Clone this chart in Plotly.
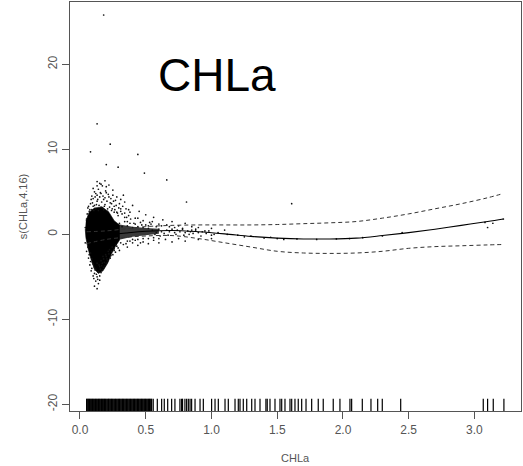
import plotly.graph_objects as go

# ---------------- data ----------------
# fitted smooth s(CHLa,4.16) and its +/- 2 SE band
fit_x = [0.05, 0.2, 0.35, 0.5, 0.7, 0.9, 1.1, 1.3, 1.5, 1.7, 1.9, 2.1, 2.3, 2.5, 2.7, 2.9, 3.1, 3.22]
fit_y = [-0.4, -0.1, 0.15, 0.35, 0.45, 0.3, 0.05, -0.25, -0.45, -0.55, -0.55, -0.45, -0.15, 0.2, 0.6, 1.05, 1.5, 1.8]
upper_y = [0.3, 0.4, 0.65, 0.9, 1.05, 1.1, 1.1, 1.1, 1.15, 1.25, 1.35, 1.5, 1.9, 2.4, 3.0, 3.6, 4.3, 4.8]
lower_y = [-1.1, -0.6, -0.35, -0.2, -0.15, -0.5, -1.0, -1.5, -2.0, -2.2, -2.25, -2.2, -2.0, -1.65, -1.45, -1.35, -1.25, -1.2]

# outline of the saturated (solid black) core of the partial-residual cloud
core_x = [0.045, 0.07, 0.11, 0.17, 0.22, 0.26, 0.3, 0.3, 0.27, 0.24, 0.21, 0.175, 0.14, 0.11, 0.085, 0.06, 0.045, 0.04]
core_y = [1.6, 2.6, 3.1, 3.2, 2.6, 1.6, 1.1, -0.7, -1.4, -2.3, -3.4, -4.3, -4.6, -4.1, -3.0, -1.6, -0.4, 0.6]

# outline of the dense (dark grey) band of residuals trailing along the smooth
trail_x = [0.28, 0.4, 0.5, 0.6, 0.6, 0.5, 0.4, 0.28]
trail_y = [1.2, 0.9, 0.75, 0.65, 0.05, -0.1, -0.3, -0.7]

# individual partial residuals around the core
res_x = [0.06, 0.08, 0.09, 0.1, 0.11, 0.12, 0.13, 0.14, 0.15, 0.16, 0.17, 0.18, 0.19, 0.2, 0.21, 0.22, 0.23,
         0.24, 0.25, 0.26, 0.27, 0.28, 0.3, 0.32, 0.33, 0.35, 0.37, 0.4, 0.42, 0.45, 0.48, 0.5, 0.53, 0.56,
         0.6, 0.63, 0.66, 0.7, 0.75, 0.8, 0.85, 0.9, 1.0, 1.1, 0.12, 0.14, 0.1, 0.07, 0.15, 0.2, 0.11, 0.09,
         0.17, 0.21, 0.13, 0.16, 0.18, 0.19, 0.24, 0.26, 0.29, 0.31, 0.34, 0.36, 0.38, 0.41, 0.44, 0.47,
         0.52, 0.55, 0.58, 0.62, 0.68, 0.72, 0.78, 0.88,
         0.06, 0.07, 0.08, 0.09, 0.1, 0.11, 0.12, 0.13, 0.14, 0.15, 0.16, 0.17, 0.18, 0.19, 0.2, 0.21, 0.22,
         0.24, 0.26, 0.28, 0.3, 0.33, 0.36, 0.4, 0.44, 0.48, 0.52, 0.56, 0.6, 0.65, 0.7, 0.75, 0.8, 0.9, 1.0,
         0.12, 0.14, 0.1, 0.13, 0.11, 0.09, 0.08, 0.15, 0.17, 0.16, 0.18, 0.2, 0.23, 0.25, 0.27, 0.05, 0.04,
         0.05, 0.04,
         0.55, 0.58, 0.6, 0.62, 0.64, 0.66, 0.68, 0.7, 0.72, 0.74, 0.76, 0.78, 0.8, 0.82, 0.84, 0.86, 0.88,
         0.9, 0.93, 0.96, 0.98, 1.02, 0.57, 0.61, 0.67, 0.73, 0.79, 0.83, 0.92, 1.0,
         1.05, 1.12, 1.2, 1.25, 1.3, 1.4, 1.45, 1.5, 1.55, 1.65, 1.8, 1.95, 2.05, 2.15, 2.3, 2.45,
         3.08, 3.1, 3.14, 3.22, 0.95, 0.85,
         0.18, 0.13, 0.23, 0.08, 0.44, 0.2, 0.29, 0.49, 0.13, 0.66, 0.81, 1.61,
         0.055, 0.065, 0.075, 0.085, 0.095, 0.105, 0.115, 0.125, 0.135, 0.145, 0.155, 0.165, 0.175, 0.185,
         0.195, 0.205, 0.215, 0.225, 0.235, 0.245, 0.255, 0.265, 0.275, 0.285, 0.295, 0.31, 0.325, 0.34,
         0.355, 0.37, 0.385, 0.1, 0.13, 0.16, 0.19, 0.22, 0.25, 0.28, 0.31, 0.34,
         0.065, 0.075, 0.085, 0.095, 0.105, 0.115, 0.125, 0.135, 0.145, 0.155, 0.165, 0.175, 0.185, 0.195,
         0.205, 0.215, 0.225, 0.235, 0.245, 0.26, 0.275, 0.29, 0.31, 0.35, 0.38, 0.42, 0.46, 0.11, 0.13, 0.15,
         0.3, 0.32, 0.34, 0.36, 0.38, 0.4, 0.42, 0.44, 0.46, 0.48, 0.5, 0.52, 0.54, 0.36, 0.4, 0.44, 0.48,
         0.52, 0.56, 0.6]
res_y = [3.1, 3.6, 2.9, 4.2, 3.4, 4.8, 3.9, 5.3, 4.4, 3.2, 5.7, 4.1, 3.5, 4.9, 3.0, 4.4, 3.7,
         2.8, 5.2, 3.3, 4.0, 2.6, 3.6, 2.4, 4.6, 3.0, 2.2, 3.4, 1.9, 2.7, 1.6, 2.3, 1.4, 2.0,
         1.2, 1.7, 1.1, 1.5, 1.0, 1.3, 0.9, 0.8, 0.7, 0.5, 3.0, 2.8, 3.3, 2.7, 6.0, 5.6, 5.0, 4.5,
         3.1, 2.7, 4.6, 4.8, 2.9, 4.3, 3.6, 2.6, 2.2, 3.0, 2.0, 1.5, 2.6, 1.3, 1.9, 1.1,
         1.0, 1.5, 0.9, 1.0, 0.9, 0.8, 0.7, 0.6,
         -1.5, -2.4, -3.2, -4.0, -3.5, -4.6, -4.1, -5.0, -4.4, -3.8, -4.5, -3.4, -2.9, -3.7, -2.6, -3.1, -2.3,
         -2.0, -1.7, -1.4, -1.9, -1.2, -1.5, -1.0, -1.3, -0.9, -1.1, -0.7, -1.0, -0.6, -0.9, -0.5, -0.8, -0.6, -0.5,
         -5.5, -5.8, -4.9, -3.4, -3.9, -2.9, -2.2, -4.9, -4.2, -3.1, -3.9, -3.4, -2.8, -2.4, -2.1, -2.0, -1.0,
         1.8, 0.8,
         0.5, 0.2, 0.6, 0.3, 0.1, 0.5, 0.3, 0.6, 0.2, 0.5, 0.3, 0.6, 0.2, 0.4, 0.3, 0.1, 0.4,
         0.2, 0.3, 0.1, 0.4, 0.0, 0.0, -0.2, -0.1, 0.0, -0.1, 0.0, -0.2, -0.1,
         0.2, 0.0, -0.1, -0.3, -0.2, -0.45, -0.35, -0.5, -0.6, -0.55, -0.6, -0.55, -0.5, -0.4, -0.2, 0.2,
         1.4, 0.8, 1.3, 1.8, 0.4, 0.5,
         25.8, 13.0, 10.6, 9.7, 9.4, 8.2, 7.9, 7.2, 6.2, 6.4, 3.8, 3.6,
         2.4, 3.3, 2.9, 4.1, 3.7, 2.8, 4.4, 3.5, 4.1, 3.4, 4.9, 3.8, 4.5, 3.3,
         5.1, 3.9, 4.7, 3.2, 4.2, 3.0, 3.9, 2.9, 3.4, 2.5, 3.1, 2.7, 3.3, 2.5,
         2.0, 2.9, 1.8, 5.4, 5.7, 5.9, 6.3, 5.8, 4.6, 4.4, 4.1, 3.8,
         -2.8, -3.6, -4.3, -3.3, -5.2, -4.2, -4.7, -5.3, -3.6, -4.1, -3.7, -2.6, -3.3, -2.4,
         -2.9, -2.0, -1.8, -2.5, -1.5, -1.9, -1.2, -1.6, -1.0, -1.1, -0.8, -0.7, -1.0, -6.1, -6.4, -5.4,
         1.3, 0.9, 1.5, 1.0, 1.3, 0.8, 1.2, 0.9, 1.4, 0.8, 1.1, 0.7, 1.2, -0.8, -0.6, -0.6, -0.5,
         -0.5, -0.4, -0.5]

# rug: observed CHLa values
rug_x = [0.050, 0.055, 0.061, 0.066, 0.072, 0.078, 0.083, 0.089, 0.095, 0.101, 0.106, 0.112, 0.118, 0.124,
         0.129, 0.135, 0.141, 0.147, 0.152, 0.158, 0.164, 0.170, 0.176, 0.181, 0.187, 0.193, 0.199, 0.205,
         0.211, 0.217, 0.222, 0.228, 0.234, 0.240, 0.246, 0.252, 0.258, 0.264, 0.270, 0.276, 0.282, 0.288,
         0.294, 0.300, 0.306, 0.312, 0.318, 0.324, 0.330, 0.336, 0.342, 0.348, 0.354, 0.360, 0.366, 0.372,
         0.378, 0.384, 0.390, 0.396, 0.402, 0.408, 0.414, 0.420, 0.426, 0.432, 0.438, 0.444, 0.450, 0.456,
         0.462, 0.468, 0.474, 0.480, 0.486, 0.492, 0.498, 0.504, 0.510, 0.516, 0.522, 0.528, 0.534, 0.540,
         0.545,
         0.557, 0.588, 0.621, 0.641, 0.667, 0.697, 0.722, 0.760, 0.773, 0.780, 0.798, 0.811, 0.824, 0.837,
         0.849, 0.875, 0.913, 0.938, 1.001, 1.027, 1.052, 1.103, 1.128, 1.179, 1.204, 1.217, 1.242, 1.268,
         1.306, 1.331, 1.369, 1.414, 1.424, 1.445, 1.483, 1.521, 1.534, 1.559, 1.597, 1.610, 1.635, 1.660,
         1.686, 1.719, 1.762, 1.812, 1.850, 1.926, 1.977, 2.053, 2.066, 2.147, 2.213, 2.264, 2.299, 2.439,
         3.067, 3.100, 3.143, 3.224]

x_ticks = [0.0, 0.5, 1.0, 1.5, 2.0, 2.5, 3.0]
x_labels = ["0.0", "0.5", "1.0", "1.5", "2.0", "2.5", "3.0"]
y_ticks = [-20, -10, 0, 10, 20]
y_labels = ["-20", "-10", "0", "10", "20"]

X_RANGE = [-0.076, 3.354]
Y_RANGE = [-20.79, 27.33]

# rug segments (R rug: ticksize 3% of the plot height from the bottom edge)
rug_h = 0.03 * (Y_RANGE[1] - Y_RANGE[0])
rx, ry = [], []
for v in rug_x:
    rx += [v, v, None]
    ry += [Y_RANGE[0], Y_RANGE[0] + rug_h, None]

fig = go.Figure()
fig.add_trace(go.Scatter(x=trail_x, y=trail_y, mode="lines", fill="toself",
                         fillcolor="#3a3a3a", line=dict(width=0, color="#3a3a3a"),
                         hoverinfo="skip", showlegend=False))
fig.add_trace(go.Scatter(x=core_x, y=core_y, mode="lines", fill="toself",
                         fillcolor="#000000", line=dict(width=0.6, color="#000000"),
                         hoverinfo="skip", showlegend=False))
fig.add_trace(go.Scatter(x=res_x, y=res_y, mode="markers",
                         marker=dict(size=1.7, color="#111111", line=dict(width=0)),
                         showlegend=False))
fig.add_trace(go.Scatter(x=fit_x, y=upper_y, mode="lines", line_shape="spline",
                         line=dict(color="#333333", width=1, dash="4px,3px"), showlegend=False))
fig.add_trace(go.Scatter(x=fit_x, y=lower_y, mode="lines", line_shape="spline",
                         line=dict(color="#333333", width=1, dash="4px,3px"), showlegend=False))
fig.add_trace(go.Scatter(x=fit_x, y=fit_y, mode="lines", line_shape="spline",
                         line=dict(color="#000000", width=1.1), showlegend=False))
fig.add_trace(go.Scatter(x=rx, y=ry, mode="lines",
                         line=dict(color="#000000", width=1.2), showlegend=False))

axis_font = dict(family="Liberation Sans, Arial, sans-serif", size=12, color="#555555")

fig.update_layout(
    width=523, height=466,
    margin=dict(l=70, r=2, t=2, b=55),
    paper_bgcolor="white", plot_bgcolor="white",
    xaxis=dict(range=X_RANGE, tickvals=x_ticks, ticktext=x_labels, showgrid=False, zeroline=False,
               showline=True, mirror=True, linecolor="#555555", linewidth=1.2,
               ticks="outside", ticklen=7, tickcolor="#555555", tickfont=axis_font),
    yaxis=dict(range=Y_RANGE, tickvals=y_ticks, ticktext=y_labels, showgrid=False, zeroline=False,
               showline=True, mirror=True, linecolor="#555555", linewidth=1.2,
               ticks="outside", ticklen=7, tickcolor="#555555", tickfont=axis_font, tickangle=-90),
    annotations=[
        dict(text="CHLa", xref="paper", yref="paper", x=0.5, y=-0.115, xanchor="center",
             yanchor="middle", showarrow=False,
             font=dict(family="Liberation Sans, Arial, sans-serif", size=11, color="#555555")),
        dict(text="s(CHLa,4.16)", xref="paper", yref="paper", x=-0.105, y=0.5, xanchor="center",
             yanchor="middle", textangle=-90, showarrow=False,
             font=dict(family="Liberation Sans, Arial, sans-serif", size=11, color="#555555")),
        dict(text="CHLa", xref="paper", yref="paper", x=0.325, y=0.822, xanchor="center",
             yanchor="middle", showarrow=False,
             font=dict(family="Liberation Sans, Arial, sans-serif", size=46, color="#000000")),
    ],
)

fig.write_html("out.html")
